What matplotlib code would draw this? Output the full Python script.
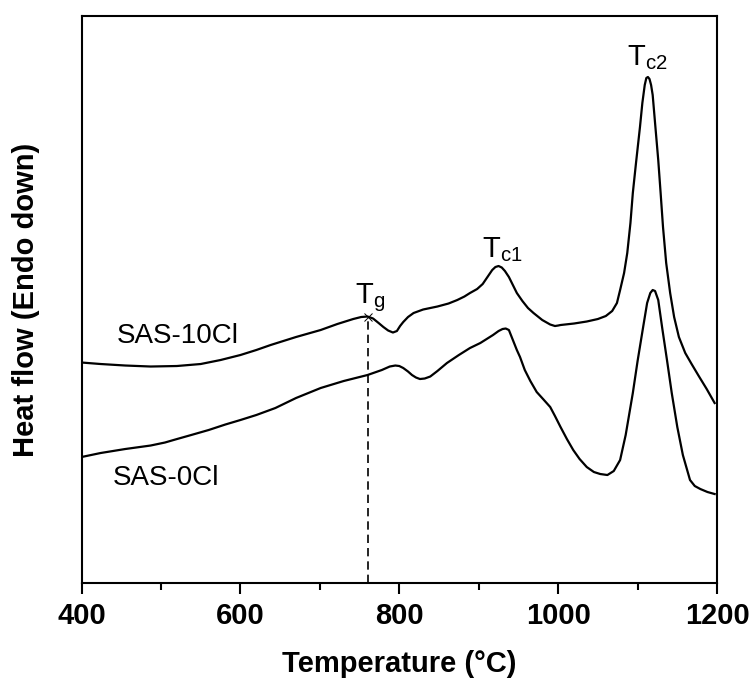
import matplotlib
matplotlib.use("Agg")
import matplotlib.pyplot as plt

plt.rcParams['font.family'] = ['Liberation Sans', 'DejaVu Sans']
plt.rcParams['mathtext.fontset'] = 'custom'
plt.rcParams['mathtext.rm'] = 'Liberation Sans'
plt.rcParams['mathtext.it'] = 'Liberation Sans'

# SAS-10Cl curve (temperature in C, heat flow in arbitrary units)
t_10cl = [400, 424, 455, 487, 520, 550, 575, 600, 620, 638, 670, 701, 722, 742,
          752, 760, 767, 774, 780, 786, 792, 797, 801, 805, 811, 818, 830, 848,
          862, 873, 882, 889, 898, 905, 911, 917, 921, 925, 929, 933, 938, 943,
          948, 955, 962, 969, 980, 990, 996, 1000, 1003, 1020, 1036, 1050, 1060,
          1068, 1074, 1078, 1083, 1087, 1091, 1094, 1098, 1103, 1106, 1109,
          1111, 1113, 1115, 1117, 1119, 1122, 1126, 1129, 1132, 1136, 1141,
          1146, 1152, 1160, 1168, 1177, 1187, 1197]
hf_10cl = [2.205, 2.19, 2.175, 2.165, 2.17, 2.19, 2.23, 2.28, 2.33, 2.38, 2.46,
           2.53, 2.59, 2.64, 2.66, 2.665, 2.645, 2.60, 2.56, 2.525, 2.505, 2.52,
           2.57, 2.61, 2.66, 2.70, 2.735, 2.765, 2.795, 2.83, 2.865, 2.90, 2.94,
           2.99, 3.06, 3.13, 3.16, 3.17, 3.155, 3.12, 3.06, 2.98, 2.90, 2.82,
           2.75, 2.70, 2.63, 2.585, 2.57, 2.575, 2.58, 2.595, 2.615, 2.64, 2.67,
           2.72, 2.80, 2.93, 3.10, 3.30, 3.60, 3.90, 4.20, 4.56, 4.80, 4.98,
           5.05, 5.06, 5.04, 4.98, 4.88, 4.60, 4.23, 3.90, 3.56, 3.20, 2.90,
           2.66, 2.46, 2.30, 2.19, 2.07, 1.94, 1.80]

# SAS-0Cl curve
t_0cl = [400, 424, 455, 487, 505, 518, 538, 560, 581, 600, 620, 644, 670, 701,
         730, 760, 778, 788, 795, 800, 805, 811, 816, 821, 826, 832, 839, 848,
         860, 875, 889, 902, 912, 918, 925, 930, 934, 938, 943, 948, 952, 958,
         965, 973, 981, 990, 996, 1003, 1011, 1019, 1027, 1036, 1045, 1053,
         1062, 1070, 1078, 1085, 1094, 1100, 1107, 1112, 1116, 1119, 1122,
         1126, 1131, 1137, 1143, 1150, 1157, 1166, 1172, 1179, 1188, 1197]
hf_0cl = [1.26, 1.30, 1.34, 1.375, 1.405, 1.435, 1.48, 1.53, 1.585, 1.63, 1.68,
          1.75, 1.85, 1.95, 2.02, 2.08, 2.13, 2.165, 2.175, 2.17, 2.15, 2.115,
          2.08, 2.055, 2.04, 2.045, 2.065, 2.12, 2.20, 2.28, 2.35, 2.40, 2.45,
          2.48, 2.52, 2.54, 2.545, 2.53, 2.43, 2.33, 2.26, 2.13, 2.02, 1.91,
          1.84, 1.76, 1.67, 1.56, 1.44, 1.33, 1.24, 1.16, 1.11, 1.09, 1.08,
          1.12, 1.23, 1.48, 1.90, 2.22, 2.56, 2.80, 2.90, 2.93, 2.92, 2.83,
          2.55, 2.23, 1.90, 1.56, 1.28, 1.03, 0.97, 0.94, 0.91, 0.89]

tg_temp, tg_hf = 761, 2.665

fig = plt.figure(figsize=(7.55, 6.93), dpi=100)
ax = fig.add_axes([0.108, 0.1587, 0.8417, 0.8182])

ax.plot(t_10cl, hf_10cl, color='black', lw=1.6)
ax.plot(t_0cl, hf_0cl, color='black', lw=1.6)

# glass transition marker
ax.plot([tg_temp, tg_temp], [0, tg_hf], color='black', lw=1.2, ls=(0, (5, 3)))
ax.plot([tg_temp], [tg_hf], marker='x', color='black', ms=6, mew=0.7)

ax.text(444, 2.40, 'SAS-10Cl', fontsize=20)
ax.text(439, 0.98, 'SAS-0Cl', fontsize=20)
ax.text(744, 2.80, r'$\mathrm{T_{g}}$', fontsize=21)
ax.text(904, 3.26, r'$\mathrm{T_{c1}}$', fontsize=21)
ax.text(1087, 5.18, r'$\mathrm{T_{c2}}$', fontsize=21)

ax.set_xlim(400, 1200)
ax.set_ylim(0, 5.67)
ax.set_xticks([400, 600, 800, 1000, 1200])
ax.set_xticks([500, 700, 900, 1100], minor=True)
ax.set_yticks([])
ax.tick_params(axis='x', which='major', direction='out', length=8, width=1.5,
               labelsize=21, pad=6)
ax.tick_params(axis='x', which='minor', direction='out', length=5, width=1.5)
for lab in ax.get_xticklabels():
    lab.set_fontweight('bold')
for s in ax.spines.values():
    s.set_linewidth(1.5)

ax.set_xlabel('Temperature (°C)', fontsize=21, fontweight='bold', labelpad=14)
ax.set_ylabel('Heat flow (Endo down)', fontsize=21, fontweight='bold', labelpad=30)

fig.savefig('out.png', dpi=100)
